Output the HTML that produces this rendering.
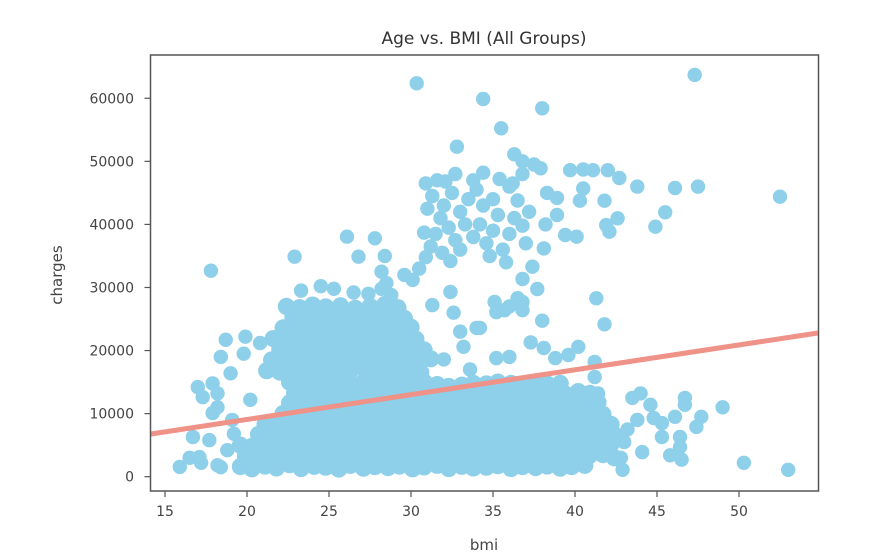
<!DOCTYPE html>
<html><head><meta charset="utf-8">
<style>
html,body{margin:0;padding:0;background:#fff;}
svg{display:block;font-family:"DejaVu Sans","Liberation Sans",sans-serif;}
</style></head>
<body>
<svg id="chart" width="892" height="560" viewBox="0 0 892 560" xmlns="http://www.w3.org/2000/svg">
<defs><clipPath id="plotClip"><rect x="150.5" y="55" width="668" height="436"/></clipPath></defs>
<rect x="0" y="0" width="892" height="560" fill="#fff"/>
<text x="484" y="44" text-anchor="middle" font-size="17" fill="#333">Age vs. BMI (All Groups)</text>
<g id="points" clip-path="url(#plotClip)"></g>
<g id="reg" clip-path="url(#plotClip)"></g>
<rect x="150.5" y="55" width="668" height="436" fill="none" stroke="#555" stroke-width="1.5"/>
<g id="xticks"></g>
<g id="yticks"></g>
<text x="484" y="550" text-anchor="middle" font-size="15" fill="#444">bmi</text>
<text x="62" y="275" text-anchor="middle" font-size="15" fill="#444" transform="rotate(-90 62 275)">charges</text>
</svg>
<script>
// ---- data ----
const xTicks = [15,20,25,30,35,40,45,50];
const yTicks = [0,10000,20000,30000,40000,50000,60000];
const regBmi = [14.1, 54.8];
const regCharges = [6750, 22780];

const bmiValues = [
19.6,20.3,21.1,21.8,22.6,23.3,24.1,24.8,25.6,26.3,27.1,27.8,28.6,29.3,30.1,30.8,31.6,32.3,33.1,33.8,34.6,35.3,36.1,36.8,37.6,38.3,39.1,39.8,40.6,
19.9,20.7,21.4,22.2,22.9,23.7,24.4,25.2,25.9,26.7,27.4,28.2,28.9,29.7,30.4,31.2,31.9,32.7,33.4,34.2,34.9,35.7,36.4,37.2,37.9,38.7,39.4,40.2,40.9,41.7,42.4,
19.6,20.3,21.1,21.8,22.6,23.3,24.1,24.8,25.6,26.3,27.1,27.8,28.6,29.3,30.1,30.8,31.6,32.3,33.1,33.8,34.6,35.3,36.1,36.8,37.6,38.3,39.1,39.8,40.6,41.4,42.2,
20.7,21.4,22.2,22.9,23.7,24.4,25.2,25.9,26.7,27.4,28.2,28.9,29.7,30.4,31.2,31.9,32.7,33.4,34.2,34.9,35.7,36.4,37.2,37.9,38.7,39.4,40.2,40.9,41.7,42.4,
21.1,21.8,22.6,23.3,24.1,24.8,25.6,26.3,27.1,27.8,28.6,29.3,30.1,30.8,31.6,32.3,33.1,33.8,34.6,35.3,36.1,36.8,37.6,38.3,39.1,39.8,40.6,41.4,42.2,
22.2,22.9,23.7,24.4,25.2,25.9,26.7,27.4,28.2,28.9,29.7,30.4,31.2,31.9,32.7,33.4,34.2,34.9,35.7,36.4,37.2,37.9,38.7,39.4,40.2,40.9,41.7,
22.6,23.3,24.1,24.8,25.6,26.3,27.1,27.8,28.6,29.3,30.1,30.8,31.6,32.3,33.1,33.8,34.6,35.3,36.1,36.8,37.6,38.3,39.1,39.8,40.6,41.4,
22.9,23.7,24.4,25.2,25.9,26.7,27.4,28.2,28.9,29.7,30.4,31.2,31.9,32.7,33.4,34.2,34.9,35.7,36.4,37.2,37.9,38.7,39.4,40.2,40.9,
22.6,23.3,24.1,24.8,25.6,26.3,27.1,27.8,28.6,29.3,30.1,30.8,31.6,32.3,33.1,33.8,34.6,35.3,36.1,36.8,37.6,38.3,39.1,
21.2,22.0,22.9,23.7,24.6,25.5,26.3,27.2,28.1,29.0,29.8,30.6,
21.5,22.4,23.2,24.1,25.0,25.9,26.8,27.6,28.5,29.4,30.3,31.2,
22.0,22.9,23.8,24.6,25.5,26.4,27.3,28.1,29.0,29.9,30.8,
21.6,22.5,23.4,24.3,25.2,26.0,26.9,27.8,28.6,29.5,30.3,
22.2,23.0,23.9,24.7,25.6,26.4,27.3,28.2,29.1,30.0,
22.8,23.6,24.4,25.2,26.1,27.0,27.9,28.8,29.6,
22.4,23.2,24.0,24.8,25.7,26.6,27.5,28.4,29.2
];
const chargeValues = [
1600,1250,1700,1400,1900,1300,1650,1500,1200,1800,1350,1600,1450,1700,1250,1550,1800,1300,1650,1400,1500,1750,1300,1600,1450,1700,1350,1600,1800,
3300,3500,3100,3400,3200,3600,3300,3000,3500,3200,3400,3700,3100,3300,3500,3200,3400,3100,3600,3300,3000,3400,3200,3500,3300,3100,3600,3200,3400,3500,3000,
5000,4800,5200,4900,5100,5300,4700,5000,5200,4900,5100,4800,5000,5300,4900,5100,4800,5200,5000,4700,5100,4900,5200,5000,4800,5300,4900,5100,5000,4800,5200,
6700,6500,6900,6600,6800,6400,6700,6900,6600,6800,6500,6700,7000,6600,6800,6500,6700,6900,6600,6400,6800,6700,6500,6900,6600,6800,6700,6500,6900,6600,
8300,8500,8200,8600,8400,8300,8500,8700,8200,8400,8600,8300,8500,8400,8200,8600,8400,8300,8500,8700,8200,8400,8600,8300,8500,8400,8200,8600,8300,
10000,10200,9900,10100,10300,9800,10000,10200,9900,10100,10300,10000,9800,10200,10100,9900,10000,10300,10100,9800,10200,10000,9900,10100,10300,10000,9900,
11700,11500,11900,11600,11800,11400,11700,11900,11600,11800,11500,11700,12000,11600,11800,11500,11700,11900,11600,11400,11800,11700,11500,11900,11600,11800,
13300,13100,13500,13200,13400,13000,13300,13500,13200,13400,13100,13300,13600,13200,13400,13100,13300,13500,13200,13000,13400,13300,13100,13500,13200,
15000,14800,15100,14900,15000,14700,15000,15200,14900,15100,14800,15000,14600,14300,14500,14800,14700,15000,14800,14600,14900,14700,14800,
16800,16600,17000,16700,16900,16500,16800,17000,16600,16900,16700,16500,
18500,18300,18700,18400,18600,18200,18500,18800,18300,18600,18400,18700,
20200,20000,20400,20100,20300,19900,20200,20500,20000,20300,20100,
21900,21700,22100,21800,22000,21600,21900,22200,21700,22000,21800,
23600,23400,23800,23500,23700,23300,23600,23900,23400,23700,
25300,25100,25500,25200,25400,25000,25300,25600,25100,
27000,26800,27200,26900,27100,26700,27000,27300,26800
];

const outlierBmi = [
30.35,34.4,32.8,17.8,22.9,26.1,27.8,26.8,28.4,28.2,
47.3,38.0,35.5,36.3,36.2,36.8,37.9,39.7,40.5,41.1,
42.0,42.7,43.8,46.1,47.5,52.5,40.5,40.3,41.8,45.5,
44.9,42.6,42.1,41.9,40.1,39.4,38.9,38.9,38.1,38.2,
37.4,36.8,37.7,35.2,36.0,36.8,41.3,38.0,41.8,
30.1,30.5,30.9,31.2,30.8,31.5,31.0,31.3,30.9,31.6,
32.1,32.5,32.0,31.8,32.3,32.7,31.9,32.4,33.0,33.3,
33.0,33.5,33.8,32.7,34.0,34.4,34.2,33.8,34.6,35.0,
35.3,35.0,35.6,36.0,36.3,36.5,36.0,36.8,37.2,37.0,
35.8,34.8,37.5,36.8,38.3,35.4,34.4,29.6,
23.3,24.5,25.3,26.5,27.4,28.2,28.8,28.5,
32.4,31.3,32.6,34.0,33.0,33.2,32.0,33.6,
15.9,16.5,17.2,18.2,17.1,18.4,16.7,17.7,19.1,17.9,
17.3,17.0,17.9,18.2,18.2,18.4,18.7,19.9,20.8,20.2,
19.0,19.8,18.8,19.2,
36.8,35.7,35.1,36.5,34.2,37.3,38.1,38.8,39.6,40.2,
41.2,35.2,36.0,41.2,41.4,43.5,44.0,44.6,43.8,44.8,
45.3,46.1,46.7,46.7,47.7,47.4,49.0,45.3,46.4,46.4,
45.8,46.5,44.1,42.9,50.3,53.0,43.0,43.2,42.8
];
const outlierCharges = [
62370,59880,52330,32660,34880,38050,37800,34880,34990,32500,
63700,58410,55240,51120,46500,48000,48900,48600,48700,48600,
48600,47360,46000,45770,46000,44400,45700,43760,43760,41920,
39640,40970,38850,39900,38050,38320,44200,41500,36200,40000,
33300,31350,29760,26100,27000,27700,28290,24740,24160,
31200,33000,34800,36500,38700,38500,42500,44500,46500,47000,
46800,45000,43000,41000,39500,37500,35500,34200,36000,40000,
42000,44000,47000,48000,45500,43000,40000,38000,37000,39000,
41500,44000,36000,38500,41000,43800,46000,39800,42000,37000,
34000,35000,49500,50000,45000,47200,48200,32000,
29500,30200,29800,29200,29000,29800,28800,30700,
29300,27200,26000,23600,23000,20600,18600,17000,
1550,3000,2200,1800,3100,1500,6300,5800,9000,10100,
12600,14200,14800,13200,11000,19000,21700,22200,21200,12200,
16400,19500,4200,6800,
26400,26400,27700,28300,23600,21300,20400,18800,19300,20600,
18200,18800,19000,15800,13200,12500,13200,11400,9000,9300,
8500,9500,12500,11400,9500,7900,11000,6300,6300,4700,
3400,2700,3900,1100,2200,1100,5500,7500,3000
];

// ---- scales ----
const X0 = 165, XPU = 16.4;
const Y0 = 476.7, YPU = 63.07/10000;
function xs(v){ return X0 + (v - 15) * XPU; }
function ys(v){ return Y0 - v * YPU; }

const NS = "http://www.w3.org/2000/svg";
const pts = document.getElementById('points');
function addPoint(b, c, r){
  const el = document.createElementNS(NS, 'circle');
  el.setAttribute('cx', xs(b).toFixed(1));
  el.setAttribute('cy', ys(c).toFixed(1));
  el.setAttribute('r', r);
  el.setAttribute('fill', '#8ecfe9');
  
  
  pts.appendChild(el);
}
for (let i = 0; i < Math.min(bmiValues.length, chargeValues.length); i++) addPoint(bmiValues[i], chargeValues[i], 8.6);
for (let i = 0; i < Math.min(outlierBmi.length, outlierCharges.length); i++) addPoint(outlierBmi[i], outlierCharges[i], 7.2);

// regression line
const reg = document.getElementById('reg');
const ln = document.createElementNS(NS, 'line');
ln.setAttribute('x1', xs(regBmi[0])); ln.setAttribute('y1', ys(regCharges[0]));
ln.setAttribute('x2', xs(regBmi[1])); ln.setAttribute('y2', ys(regCharges[1]));
ln.setAttribute('stroke', '#ef9288'); ln.setAttribute('stroke-width', 5);


reg.appendChild(ln);

// ticks
const xg = document.getElementById('xticks');
xTicks.forEach(t => {
  const x = xs(t);
  const tk = document.createElementNS(NS, 'line');
  tk.setAttribute('x1', x); tk.setAttribute('x2', x);
  tk.setAttribute('y1', 491); tk.setAttribute('y2', 497);
  tk.setAttribute('stroke', '#555'); tk.setAttribute('stroke-width', 1.2);
  
  
  xg.appendChild(tk);
  const tx = document.createElementNS(NS, 'text');
  tx.setAttribute('x', x); tx.setAttribute('y', 516);
  tx.setAttribute('text-anchor', 'middle'); tx.setAttribute('font-size', '14');
  tx.setAttribute('fill', '#444');
  
  
  tx.textContent = t;
  xg.appendChild(tx);
});
const yg = document.getElementById('yticks');
yTicks.forEach(t => {
  const y = ys(t);
  const tk = document.createElementNS(NS, 'line');
  tk.setAttribute('x1', 144.5); tk.setAttribute('x2', 150.5);
  tk.setAttribute('y1', y); tk.setAttribute('y2', y);
  tk.setAttribute('stroke', '#555'); tk.setAttribute('stroke-width', 1.2);
  
  
  yg.appendChild(tk);
  const tx = document.createElementNS(NS, 'text');
  tx.setAttribute('x', 134); tx.setAttribute('y', y + 5);
  tx.setAttribute('text-anchor', 'end'); tx.setAttribute('font-size', '14');
  tx.setAttribute('fill', '#444');
  
  
  tx.textContent = t;
  yg.appendChild(tx);
});
</script>
</body></html>
